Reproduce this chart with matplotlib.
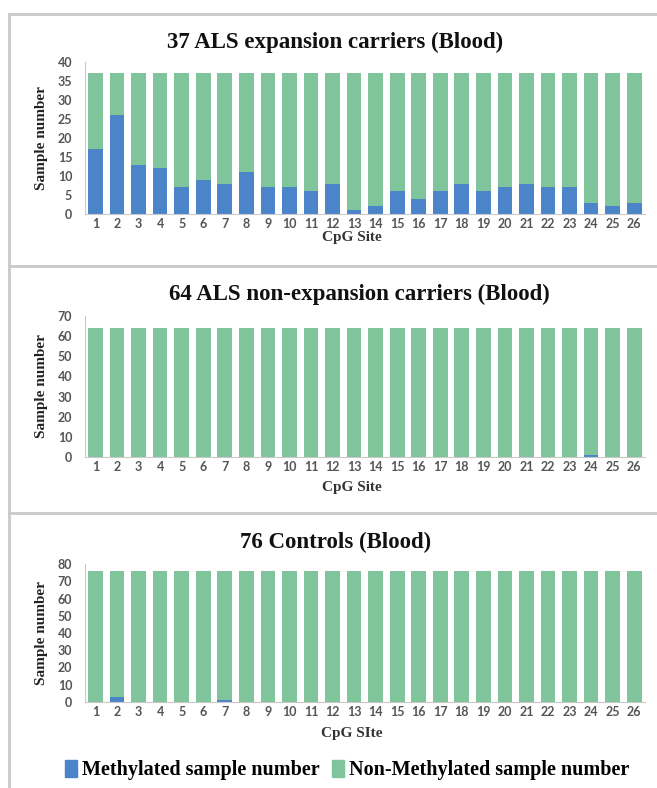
import matplotlib
matplotlib.use("Agg")
import matplotlib.pyplot as plt
import numpy as np
from matplotlib.lines import Line2D
from matplotlib.patches import Patch

# CpG sites 1..26
sites = [str(i) for i in range(1, 27)]

# 37 ALS expansion carriers
meth_exp = [17, 26, 13, 12, 7, 9, 8, 11, 7, 7, 6, 8, 1, 2, 6, 4, 6, 8, 6, 7, 8, 7, 7, 3, 2, 3]
total_exp = 37
# 64 ALS non-expansion carriers
meth_nonexp = [0] * 23 + [1, 0, 0]
total_nonexp = 64
# 76 controls
meth_ctrl = [0, 3, 0, 0, 0, 0, 1] + [0] * 19
total_ctrl = 76

titles = ["37 ALS expansion carriers (Blood)",
          "64 ALS non-expansion carriers (Blood)",
          "76 Controls (Blood)"]
xlabels = ["CpG Site", "CpG Site", "CpG SIte"]
ymax = [40, 70, 80]
ystep = [5, 10, 10]

BLUE = "#4b84c9"
GREEN = "#80c49b"
GRID = "#c9c9c9"
TICK = "#555555"

W, H = 657, 788
fig = plt.figure(figsize=(W / 100, H / 100), dpi=100)


def fx(px):
    return px / W


def fy(py):
    return 1 - py / H


# panel geometry in pixels: (y of zero line, y of top tick, title y, xlabel y, title x)
panels = [(214, 62, 42, 237, 335),
          (457, 316, 294, 487, 359),
          (702, 564, 542, 733, 336)]
left_px, right_px = 84.7, 645

data = [(meth_exp, total_exp), (meth_nonexp, total_nonexp), (meth_ctrl, total_ctrl)]
x = np.arange(len(sites))

for i, ((meth, tot), (y0, ytop, ty, xly, tx)) in enumerate(zip(data, panels)):
    ax = fig.add_axes([fx(left_px), fy(y0), fx(right_px - left_px), (y0 - ytop) / H])
    meth = np.array(meth)
    non = tot - meth
    ax.bar(x, meth, width=0.68, color=BLUE, zorder=2)
    ax.bar(x, non, bottom=meth, width=0.68, color=GREEN, zorder=2)
    ax.set_xlim(-0.5, len(sites) - 0.5)
    ax.set_ylim(0, ymax[i])
    ax.set_yticks(np.arange(0, ymax[i] + 1, ystep[i]))
    ax.set_xticks(x)
    ax.set_xticklabels(sites)
    for s in ["top", "right"]:
        ax.spines[s].set_visible(False)
    ax.spines["left"].set_color(GRID)
    ax.spines["bottom"].set_color(GRID)
    ax.tick_params(length=0, labelsize=9, labelcolor=TICK, pad=3)
    ax.tick_params(axis="y", pad=9)
    for lab in ax.get_xticklabels() + ax.get_yticklabels():
        lab.set_fontfamily("Lato")
        lab.set_fontweight("bold")
    ax.set_xlabel(xlabels[i], fontsize=11, fontweight="bold", family="Liberation Serif", color="#333333")
    ax.xaxis.set_label_coords((352 - left_px) / (right_px - left_px), -(xly - y0) / (y0 - ytop), transform=ax.transAxes)
    ax.xaxis.label.set_va("center")
    ax.set_ylabel("Sample number", fontsize=11, fontweight="bold", family="Liberation Serif", color="#222222")
    ax.yaxis.set_label_coords((42 - left_px) / (right_px - left_px), 0.5)
    ax.yaxis.label.set_va("center")
    fig.text(fx(tx), fy(ty), titles[i], ha="center", va="center", fontsize=16.5,
             fontweight="bold", family="Liberation Serif", color="#111111")

# panel borders
for yy in [14, 266, 513]:
    fig.add_artist(Line2D([fx(9), 1], [fy(yy), fy(yy)], color=GRID, lw=2))
fig.add_artist(Line2D([fx(9), fx(9)], [fy(14), 0], color=GRID, lw=2))

handles = [Patch(color=BLUE, label="Methylated sample number"),
           Patch(color=GREEN, label="Non-Methylated sample number")]
fig.legend(handles=handles, loc="center", bbox_to_anchor=(fx(347), fy(770)), ncol=2,
           frameon=False, handlelength=0.6, handleheight=0.9, handletextpad=0.25,
           columnspacing=0.6, prop={"family": "Liberation Serif", "weight": "bold", "size": 14.5})

fig.savefig("out.png", dpi=100)
